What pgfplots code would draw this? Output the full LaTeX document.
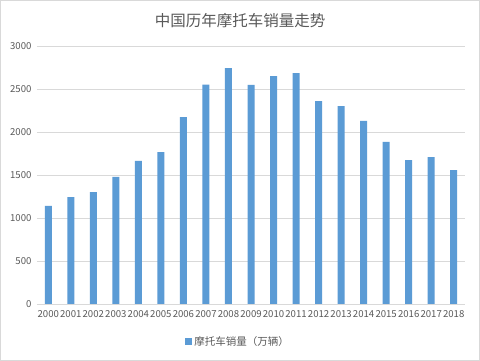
\documentclass[border=0pt]{standalone}
\usepackage{pgfplots}
\pgfplotsset{compat=1.18}
\usepackage{fontspec}
\setmainfont{Noto Sans CJK SC}
\definecolor{barblue}{HTML}{5B9BD5}
\definecolor{gridgray}{HTML}{D9D9D9}
\definecolor{txtgray}{HTML}{595959}
\begin{document}
\begin{tikzpicture}[x=1pt,y=1pt]
\draw[draw=gridgray, fill=white, line width=0.8pt] (0.4,0.4) rectangle (479.6,360.6);
\node[text=txtgray, font=\fontsize{15.5}{16}\selectfont] at (240,340) {中国历年摩托车销量走势};
\begin{axis}[
  at={(37pt,57pt)}, anchor=south west,
  scale only axis, width=428pt, height=258pt,
  xmin=-0.5, xmax=18.5, ymin=0, ymax=3000,
  ytick={0,500,...,3000},
  xtick={0,...,18},
  xticklabels={2000,2001,2002,2003,2004,2005,2006,2007,2008,2009,2010,2011,2012,2013,2014,2015,2016,2017,2018},
  ymajorgrids, grid style={gridgray, line width=0.8pt},
  axis line style={draw=none},
  major tick length=0pt,
  tick label style={text=txtgray, font=\fontsize{9.6}{10}\selectfont},
  xticklabel style={inner xsep=0pt, yshift=-3pt},
  yticklabel style={xshift=-2pt},
  /pgf/number format/assume math mode=true,
  yticklabel style={/pgf/number format/1000 sep={}},
  legend style={at={(0.47,-0.147)}, anchor=center, draw=none, fill=none,
    font=\fontsize{10.5}{11}\selectfont, text=txtgray},
  legend image code/.code={\fill[barblue] (0pt,-3.5pt) rectangle (7pt,3.5pt);},
]
\addplot[ybar, bar width=7pt, fill=barblue, draw=none] coordinates {
(0,1140) (1,1244) (2,1302) (3,1477) (4,1663) (5,1767) (6,2174) (7,2550) (8,2744)
(9,2547) (10,2651) (11,2686) (12,2360) (13,2302) (14,2128) (15,1884) (16,1674) (17,1709) (18,1558)
};
\addlegendentry{摩托车销量（万辆）}
\end{axis}
\end{tikzpicture}
\end{document}
